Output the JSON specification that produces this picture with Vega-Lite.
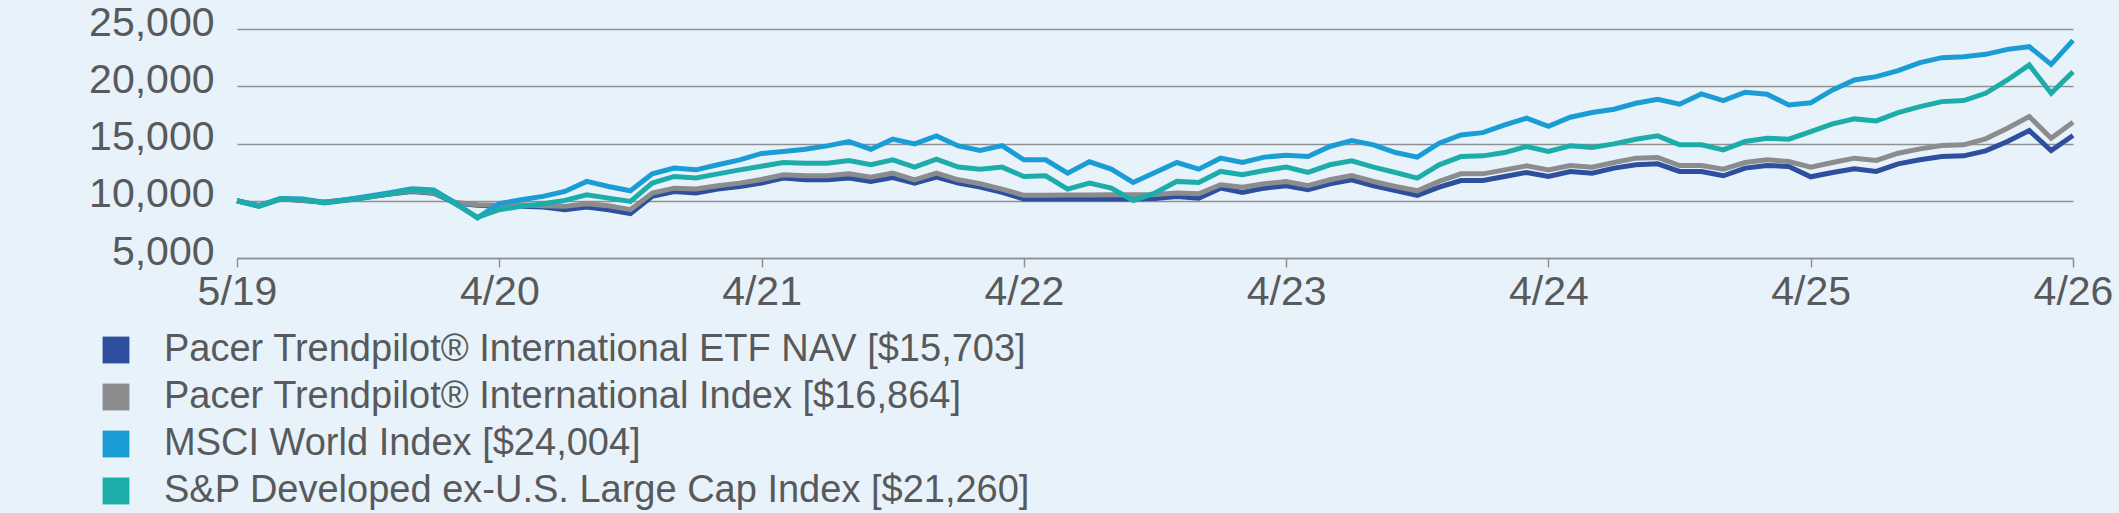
{
  "$schema": "https://vega.github.io/schema/vega-lite/v6.json",
  "width": 1836,
  "height": 229,
  "autosize": {"type": "none"},
  "padding": {"left": 237, "top": 29, "right": 46, "bottom": 255},
  "background": "#E8F2FA",
  "config": {
    "view": {"stroke": null},
    "font": "Liberation Sans",
    "axis": {"labelFont": "Liberation Sans", "labelColor": "#58595B", "labelFontSize": 41, "gridColor": "#8E9094", "gridWidth": 1.5, "domainColor": "#8E9094", "domainWidth": 1.5, "tickColor": "#8E9094", "tickWidth": 1.5}
  },
  "data": {
    "values": [
      {"m":0,"etf":10000,"idx":10000,"msci":10000,"sp":10000},
      {"m":1,"etf":9560,"idx":9580,"msci":9550,"sp":9500},
      {"m":2,"etf":10170,"idx":10180,"msci":10200,"sp":10150},
      {"m":3,"etf":10030,"idx":10050,"msci":10150,"sp":10100},
      {"m":4,"etf":9880,"idx":9900,"msci":9850,"sp":9800},
      {"m":5,"etf":10060,"idx":10080,"msci":10100,"sp":10050},
      {"m":6,"etf":10330,"idx":10350,"msci":10400,"sp":10300},
      {"m":7,"etf":10580,"idx":10600,"msci":10700,"sp":10600},
      {"m":8,"etf":10800,"idx":10850,"msci":11050,"sp":10950},
      {"m":9,"etf":10650,"idx":10700,"msci":10950,"sp":10850},
      {"m":10,"etf":9800,"idx":9850,"msci":9800,"sp":9700},
      {"m":11,"etf":9600,"idx":9650,"msci":8500,"sp":8550},
      {"m":12,"etf":9530,"idx":9600,"msci":9740,"sp":9220},
      {"m":13,"etf":9510,"idx":9650,"msci":10090,"sp":9510},
      {"m":14,"etf":9450,"idx":9560,"msci":10380,"sp":9740},
      {"m":15,"etf":9220,"idx":9510,"msci":10810,"sp":10030},
      {"m":16,"etf":9450,"idx":9740,"msci":11690,"sp":10520},
      {"m":17,"etf":9220,"idx":9560,"msci":11250,"sp":10230},
      {"m":18,"etf":8870,"idx":9220,"msci":10870,"sp":9940},
      {"m":19,"etf":10380,"idx":10670,"msci":12350,"sp":11540},
      {"m":20,"etf":10810,"idx":11100,"msci":12850,"sp":12120},
      {"m":21,"etf":10670,"idx":11020,"msci":12700,"sp":11980},
      {"m":22,"etf":11020,"idx":11310,"msci":13140,"sp":12350},
      {"m":23,"etf":11250,"idx":11540,"msci":13570,"sp":12700},
      {"m":24,"etf":11540,"idx":11860,"msci":14130,"sp":13020},
      {"m":25,"etf":11980,"idx":12270,"msci":14300,"sp":13340},
      {"m":26,"etf":11830,"idx":12180,"msci":14500,"sp":13280},
      {"m":27,"etf":11830,"idx":12180,"msci":14790,"sp":13280},
      {"m":28,"etf":11980,"idx":12350,"msci":15170,"sp":13520},
      {"m":29,"etf":11690,"idx":12060,"msci":14500,"sp":13140},
      {"m":30,"etf":12030,"idx":12410,"msci":15380,"sp":13570},
      {"m":31,"etf":11540,"idx":11830,"msci":14970,"sp":12940},
      {"m":32,"etf":12060,"idx":12410,"msci":15660,"sp":13630},
      {"m":33,"etf":11540,"idx":11830,"msci":14790,"sp":12940},
      {"m":34,"etf":11190,"idx":11480,"msci":14390,"sp":12760},
      {"m":35,"etf":10730,"idx":11020,"msci":14820,"sp":12940},
      {"m":36,"etf":10150,"idx":10470,"msci":13570,"sp":12120},
      {"m":37,"etf":10150,"idx":10470,"msci":13570,"sp":12180},
      {"m":38,"etf":10150,"idx":10500,"msci":12410,"sp":11020},
      {"m":39,"etf":10150,"idx":10500,"msci":13400,"sp":11540},
      {"m":40,"etf":10150,"idx":10520,"msci":12760,"sp":11100},
      {"m":41,"etf":10150,"idx":10520,"msci":11600,"sp":10030},
      {"m":42,"etf":10200,"idx":10550,"msci":12470,"sp":10670},
      {"m":43,"etf":10380,"idx":10670,"msci":13340,"sp":11690},
      {"m":44,"etf":10230,"idx":10610,"msci":12760,"sp":11600},
      {"m":45,"etf":11100,"idx":11400,"msci":13720,"sp":12560},
      {"m":46,"etf":10730,"idx":11190,"msci":13340,"sp":12270},
      {"m":47,"etf":11100,"idx":11480,"msci":13810,"sp":12640},
      {"m":48,"etf":11310,"idx":11685,"msci":13980,"sp":12935},
      {"m":49,"etf":10960,"idx":11310,"msci":13860,"sp":12470},
      {"m":50,"etf":11480,"idx":11830,"msci":14740,"sp":13140},
      {"m":51,"etf":11830,"idx":12210,"msci":15260,"sp":13490},
      {"m":52,"etf":11310,"idx":11685,"msci":14880,"sp":12935},
      {"m":53,"etf":10900,"idx":11250,"msci":14210,"sp":12470},
      {"m":54,"etf":10470,"idx":10870,"msci":13810,"sp":11980},
      {"m":55,"etf":11190,"idx":11685,"msci":15030,"sp":13140},
      {"m":56,"etf":11770,"idx":12350,"msci":15750,"sp":13860},
      {"m":57,"etf":11770,"idx":12350,"msci":15950,"sp":13920},
      {"m":58,"etf":12120,"idx":12700,"msci":16620,"sp":14210},
      {"m":59,"etf":12470,"idx":13050,"msci":17210,"sp":14740},
      {"m":60,"etf":12121,"idx":12680,"msci":16500,"sp":14300},
      {"m":61,"etf":12557,"idx":13080,"msci":17295,"sp":14795},
      {"m":62,"etf":12412,"idx":12935,"msci":17700,"sp":14650},
      {"m":63,"etf":12848,"idx":13342,"msci":17993,"sp":14969},
      {"m":64,"etf":13138,"idx":13720,"msci":18517,"sp":15375},
      {"m":65,"etf":13226,"idx":13778,"msci":18866,"sp":15667},
      {"m":66,"etf":12557,"idx":13080,"msci":18430,"sp":14882},
      {"m":67,"etf":12557,"idx":13080,"msci":19328,"sp":14882},
      {"m":68,"etf":12180,"idx":12761,"msci":18749,"sp":14446},
      {"m":69,"etf":12848,"idx":13342,"msci":19473,"sp":15170},
      {"m":70,"etf":13080,"idx":13574,"msci":19300,"sp":15462},
      {"m":71,"etf":12993,"idx":13429,"msci":18370,"sp":15375},
      {"m":72,"etf":12090,"idx":12935,"msci":18550,"sp":16041},
      {"m":73,"etf":12470,"idx":13342,"msci":19677,"sp":16713},
      {"m":74,"etf":12790,"idx":13720,"msci":20549,"sp":17149},
      {"m":75,"etf":12557,"idx":13516,"msci":20840,"sp":16974},
      {"m":76,"etf":13226,"idx":14155,"msci":21363,"sp":17700},
      {"m":77,"etf":13574,"idx":14533,"msci":22060,"sp":18221},
      {"m":78,"etf":13866,"idx":14823,"msci":22496,"sp":18657},
      {"m":79,"etf":13923,"idx":14882,"msci":22583,"sp":18745},
      {"m":80,"etf":14359,"idx":15405,"msci":22786,"sp":19386},
      {"m":81,"etf":15170,"idx":16338,"msci":23222,"sp":20549},
      {"m":82,"etf":16129,"idx":17350,"msci":23455,"sp":21857},
      {"m":83,"etf":14388,"idx":15462,"msci":21915,"sp":19386},
      {"m":84,"etf":15703,"idx":16864,"msci":24004,"sp":21260}
    ]
  },
  "transform": [{"fold": ["etf", "idx", "msci", "sp"], "as": ["series", "value"]}],
  "mark": {"type": "line", "strokeWidth": 5, "strokeJoin": "miter"},
  "encoding": {
    "x": {
      "field": "m", "type": "quantitative",
      "scale": {"domain": [0, 84], "nice": false, "zero": false},
      "axis": {"title": null, "grid": false, "values": [0, 12, 24, 36, 48, 60, 72, 84], "tickSize": 9, "labelPadding": 5, "labelFlush": false,
        "labelExpr": "['5/19','4/20','4/21','4/22','4/23','4/24','4/25','4/26'][round(datum.value/12)]"}
    },
    "y": {
      "field": "value", "type": "quantitative",
      "scale": {"domain": [5000, 25000], "nice": false, "zero": false},
      "axis": {"title": null, "values": [5000, 10000, 15000, 20000, 25000], "format": ",.0f", "ticks": false, "domain": false, "labelPadding": 23, "labelOffset": -6}
    },
    "color": {
      "field": "series", "type": "nominal",
      "scale": {"domain": ["etf", "idx", "msci", "sp"], "range": ["#2E4E9E", "#8B8C8E", "#1A9DD5", "#1CADAA"]},
      "legend": {
        "title": null, "orient": "none", "legendX": -140, "legendY": 302, "direction": "vertical",
        "symbolType": "square", "symbolSize": 720, "symbolStrokeWidth": 0, "symbolOpacity": 1,
        "labelFont": "Liberation Sans", "labelFontSize": 38, "labelColor": "#58595B", "labelOffset": 29, "rowPadding": 9, "padding": 0, "labelLimit": 2000,
        "labelExpr": "datum.value == 'etf' ? 'Pacer Trendpilot® International ETF NAV [$15,703]' : datum.value == 'idx' ? 'Pacer Trendpilot® International Index [$16,864]' : datum.value == 'msci' ? 'MSCI World Index [$24,004]' : 'S&P Developed ex-U.S. Large Cap Index [$21,260]'",
        "encode": {"symbols": {"update": {"fill": {"scale": "color", "field": "value"}, "fillOpacity": {"value": 1}, "strokeWidth": {"value": 0}}}}
      }
    }
  }
}
